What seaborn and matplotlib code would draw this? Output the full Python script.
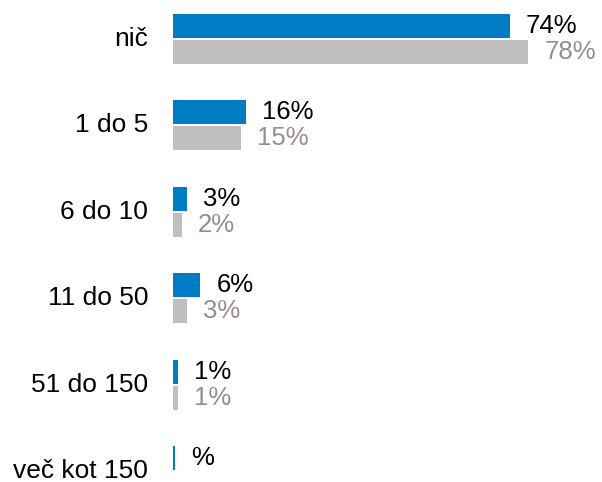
import numpy as np
import pandas as pd
import matplotlib
matplotlib.use("Agg")
import matplotlib.pyplot as plt
import seaborn as sns

# Number of items per category, two survey rounds (percent)
categories = ["nič", "1 do 5", "6 do 10", "11 do 50", "51 do 150", "več kot 150"]
current_values = [74, 16, 3, 6, 1, 0.4]
previous_values = [78, 15, 2, 3, 1, np.nan]
current_labels = ["74%", "16%", "3%", "6%", "1%", "%"]
previous_labels = ["78%", "15%", "2%", "3%", "1%", ""]

series_names = ["current", "previous"]
bar_colors = ["#007cc4", "#bfbfbf"]
label_colors = ["#000000", "#958e8a"]

rows = []
for cat, v, lab in zip(categories, current_values, current_labels):
    rows.append({"kategorija": cat, "delež": v, "serija": series_names[0], "oznaka": lab})
for cat, v, lab in zip(categories, previous_values, previous_labels):
    rows.append({"kategorija": cat, "delež": v, "serija": series_names[1], "oznaka": lab})
df = pd.DataFrame(rows).dropna(subset=["delež"])

sns.set_theme(style="white")
plt.rcParams["font.family"] = ["Liberation Sans", "DejaVu Sans"]

fig = plt.figure(figsize=(6.02, 4.82), dpi=100)
ax = fig.add_axes([173 / 602, 0, 1 - 173 / 602, 1])

sns.barplot(
    data=df, y="kategorija", x="delež", hue="serija",
    order=categories, hue_order=series_names, palette=bar_colors,
    orient="h", width=0.602, gap=0.077, errorbar=None, saturation=1,
    legend=False, ax=ax, linewidth=0,
)
for container, color in zip(ax.containers, bar_colors):
    for patch in container:
        patch.set_facecolor(color)
        patch.set_edgecolor("none")

for container, name, color in zip(ax.containers, series_names, label_colors):
    labels = df.loc[df["serija"] == name, "oznaka"].tolist()
    ax.bar_label(container, labels=labels, padding=11.5, fontsize=18.5, color=color)

ax.set_xlim(0, 429 / 4.555)
ax.set_ylim(5.127, -0.451)
ax.set_xlabel("")
ax.set_ylabel("")
ax.set_xticks([])
ax.tick_params(axis="y", length=0, pad=18, labelsize=19, labelcolor="#000000")
for label in ax.get_yticklabels():
    label.set_va("center")
for s in ax.spines.values():
    s.set_visible(False)
ax.patch.set_alpha(0)

fig.savefig("out.png", dpi=100)
